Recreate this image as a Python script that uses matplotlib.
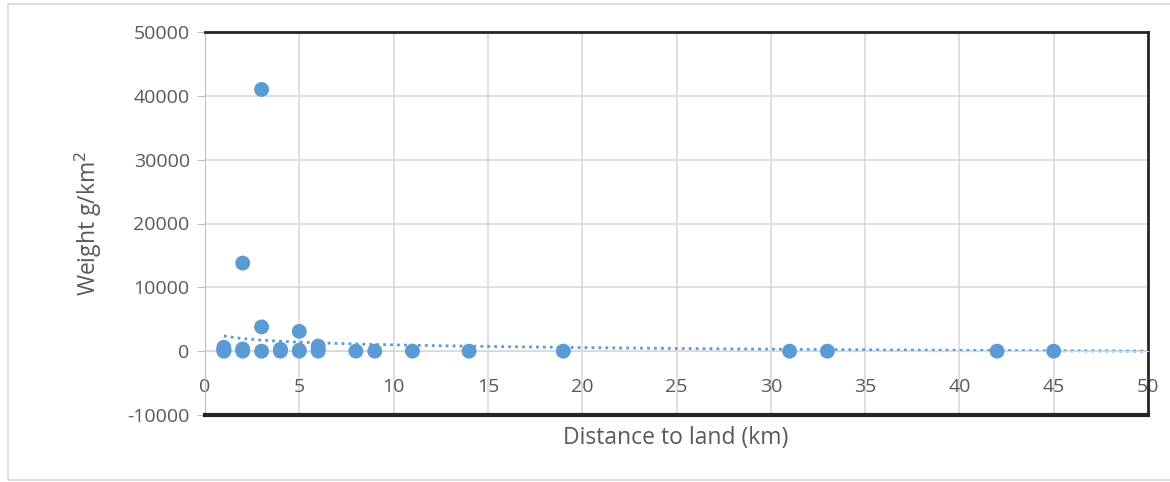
import numpy as np
import matplotlib.pyplot as plt
from matplotlib.patches import Rectangle

# distance to land (km) and plastic weight (g/km2)
distance = [1, 1, 1, 2, 2, 2, 3, 3, 3, 4, 4, 5, 5, 5, 6, 6, 6, 8, 9, 11, 14, 19, 31, 33, 42, 45]
weight = [0, 250, 600, 13800, 0, 350, 41000, 3800, 0, 0, 300, 3100, 0, 150, 0, 400, 800,
          0, 0, 0, 0, 0, 0, 0, 0, 0]

# log trend line y = a + b*ln(x)
trend_a = 2400
trend_b = -614

x_ticks = list(range(0, 51, 5))
y_ticks = list(range(-10000, 50001, 10000))

blue = '#5B9BD5'
grey_txt = '#595959'
plt.rcParams['font.family'] = ['Open Sans', 'DejaVu Sans']
plt.rcParams['axes.unicode_minus'] = False

fig = plt.figure(figsize=(11.7, 4.82), dpi=100)
ax = fig.add_axes([205/1170, 1-415/482, (1148-205)/1170, (415-32)/482])

# light border round the whole chart
fig.patches.append(Rectangle((8/1170, 2/482), 1180/1170, 476/482, transform=fig.transFigure,
                             fill=False, edgecolor='#d9d9d9', lw=1.2))

ax.set_xlim(0, 50)
ax.set_ylim(-10000, 50000)
ax.set_xticks(x_ticks)
ax.set_yticks(y_ticks)
ax.grid(True, color='#d9d9d9', lw=1.2)
ax.set_axisbelow(True)

for s in ['top', 'right']:
    ax.spines[s].set_color('#262626')
    ax.spines[s].set_linewidth(2)
ax.spines['left'].set_color('#bfbfbf')
ax.spines['bottom'].set_position(('data', 0))
ax.spines['bottom'].set_color('#d9d9d9')
ax.axhline(-10000, color='#262626', lw=3, clip_on=False, zorder=5)

ax.tick_params(axis='y', colors='#bfbfbf', labelcolor=grey_txt, labelsize=14, length=6,
               direction='out', pad=5)
ax.tick_params(axis='x', colors='#d9d9d9', labelcolor=grey_txt, labelsize=14, length=0,
               direction='out', pad=19)

ax.scatter(distance, weight, s=115, color=blue, zorder=3, edgecolors='none')

xt = np.linspace(1, 50, 200)
ax.plot(xt, trend_a + trend_b*np.log(xt), color=blue, lw=2, ls=(0, (1, 1.5)), zorder=2)

fig.text(676/1170, 1-438/482, 'Distance to land (km)', ha='center', va='center',
         fontsize=16.5, color=grey_txt)
fig.text(88/1170, 1-223/482, 'Weight g/km$^2$', ha='center', va='center', rotation=90,
         fontsize=16.5, color=grey_txt)

fig.savefig('out.png', dpi=100)
